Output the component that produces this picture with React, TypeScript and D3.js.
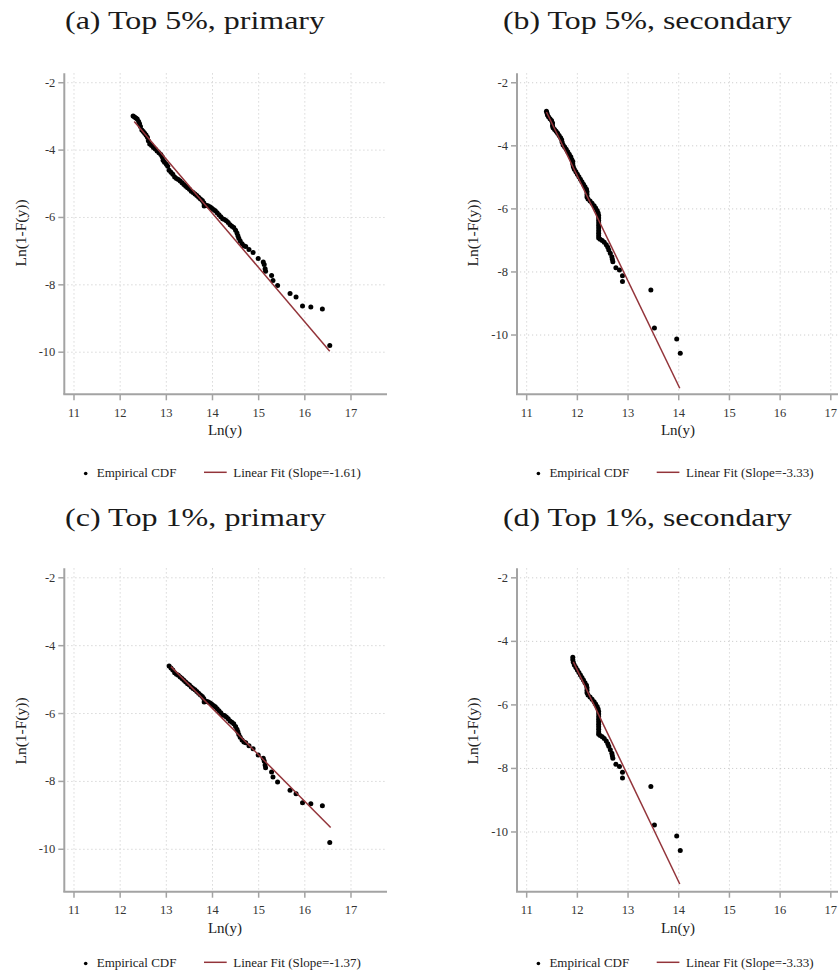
import React from 'react';
import * as d3 from 'd3';

// Empirical CDF points: [Ln(y), Ln(1-F(y))]
const primaryPoints: [number, number][] = [
  [12.28, -2.99], [12.31, -3.02], [12.34, -3.05], [12.37, -3.08], [12.40, -3.15],
  [12.42, -3.22], [12.44, -3.30], [12.47, -3.40], [12.50, -3.45], [12.53, -3.50],
  [12.56, -3.55], [12.59, -3.62], [12.61, -3.72], [12.64, -3.82], [12.68, -3.86],
  [12.72, -3.92], [12.76, -3.97], [12.80, -4.03], [12.84, -4.08], [12.88, -4.13],
  [12.91, -4.20], [12.93, -4.30], [12.96, -4.36], [13.00, -4.42], [13.03, -4.48],
  [13.06, -4.60], [13.10, -4.66], [13.14, -4.72], [13.18, -4.80], [13.22, -4.84],
  [13.26, -4.87], [13.30, -4.92], [13.34, -4.97], [13.38, -5.02], [13.42, -5.07],
  [13.46, -5.12], [13.50, -5.16], [13.54, -5.22], [13.58, -5.26], [13.62, -5.30],
  [13.66, -5.35], [13.70, -5.40], [13.74, -5.45], [13.78, -5.50], [13.81, -5.56],
  [13.82, -5.66], [13.86, -5.64], [13.90, -5.65], [13.94, -5.68], [13.98, -5.72],
  [14.02, -5.76], [14.06, -5.80], [14.10, -5.86], [14.14, -5.92], [14.18, -5.98],
  [14.22, -6.04], [14.26, -6.06], [14.30, -6.10], [14.34, -6.15], [14.38, -6.22],
  [14.42, -6.26], [14.46, -6.30], [14.50, -6.38], [14.53, -6.46], [14.55, -6.54],
  [14.57, -6.62], [14.60, -6.70], [14.64, -6.78], [14.68, -6.84], [14.72, -6.86],
  [14.79, -6.95], [14.88, -7.04], [14.99, -7.22], [15.10, -7.32], [15.12, -7.40],
  [15.14, -7.52], [15.15, -7.60], [15.28, -7.72], [15.31, -7.87], [15.41, -8.02],
  [15.68, -8.26], [15.81, -8.36], [15.95, -8.63], [16.13, -8.66], [16.38, -8.72],
  [16.54, -9.80],
];

const secondaryPoints: [number, number][] = [
  [11.39, -2.90], [11.40, -2.96], [11.41, -3.02], [11.43, -3.08], [11.46, -3.14],
  [11.49, -3.20], [11.51, -3.28], [11.51, -3.36], [11.52, -3.43], [11.55, -3.48],
  [11.58, -3.54], [11.61, -3.60], [11.64, -3.67], [11.67, -3.74], [11.69, -3.81],
  [11.70, -3.89], [11.72, -3.97], [11.75, -4.04], [11.78, -4.11], [11.81, -4.19],
  [11.84, -4.27], [11.87, -4.35], [11.89, -4.43], [11.91, -4.50], [11.91, -4.58],
  [11.92, -4.66], [11.94, -4.74], [11.97, -4.82], [12.00, -4.90], [12.03, -4.98],
  [12.06, -5.06], [12.09, -5.14], [12.12, -5.22], [12.15, -5.30], [12.18, -5.38],
  [12.19, -5.46], [12.19, -5.54], [12.19, -5.62], [12.21, -5.69], [12.25, -5.75],
  [12.29, -5.82], [12.33, -5.90], [12.36, -5.97], [12.39, -6.05], [12.41, -6.13],
  [12.42, -6.21], [12.42, -6.29], [12.42, -6.37], [12.42, -6.45], [12.42, -6.53],
  [12.42, -6.61], [12.42, -6.69], [12.42, -6.77], [12.42, -6.85], [12.42, -6.92],
  [12.45, -6.96], [12.49, -7.00], [12.53, -7.06], [12.57, -7.14], [12.60, -7.22],
  [12.62, -7.30], [12.65, -7.41], [12.68, -7.52], [12.69, -7.60], [12.70, -7.68],
  [12.76, -7.87], [12.83, -7.94], [12.89, -8.12], [12.89, -8.30], [13.45, -8.57],
  [13.52, -9.78], [13.96, -10.13], [14.03, -10.58],
];

const panelTitles = [
  '(a) Top 5%, primary',
  '(b) Top 5%, secondary',
  '(c) Top 1%, primary',
  '(d) Top 1%, secondary',
];
const fitSlopes = [-1.61, -3.33, -1.37, -3.33];
const fitIntercepts = [16.66, 35.0, 13.33, 35.05];
const fitStart = [12.305, 11.39, 13.1, 11.92];
const fitEnd = [16.54, 14.02, 16.56, 14.02];
const xTicks = [11, 12, 13, 14, 15, 16, 17];
const yTicks = [-2, -4, -6, -8, -10];
const top1Cutoff = -4.5;
const xTitle = 'Ln(y)';
const yTitle = 'Ln(1-F(y))';
const legendPoints = 'Empirical CDF';

// layout (pixels) for each panel
const layouts = [
  { xRange: [64.3, 387], yRange: [73.3, 394.3], xDomain: [10.79, 17.78], yDomain: [-1.72, -11.25],
    titleX: 65, titleY: 29, titleW: 260, yLabX: 20, yLabY: 233, xLabX: 225, xLabY: 435, tickY: 416.5, legX: 85.7, legY: 477 },
  { xRange: [517, 845], yRange: [73.3, 394.3], xDomain: [10.809, 17.28], yDomain: [-1.70, -11.88],
    titleX: 503, titleY: 29, titleW: 289, yLabX: 472.7, yLabY: 233, xLabX: 678, xLabY: 435, tickY: 416.5, legX: 538.4, legY: 477 },
  { xRange: [64.3, 387], yRange: [568.3, 891.7], xDomain: [10.79, 17.78], yDomain: [-1.72, -11.25],
    titleX: 65, titleY: 526, titleW: 261, yLabX: 20, yLabY: 731, xLabX: 225, xLabY: 933, tickY: 913.5, legX: 85.7, legY: 967 },
  { xRange: [517, 845], yRange: [568.3, 891.7], xDomain: [10.809, 17.28], yDomain: [-1.70, -11.88],
    titleX: 503, titleY: 526, titleW: 289, yLabX: 472.7, yLabY: 731, xLabX: 678, xLabY: 933, tickY: 913.5, legX: 538.4, legY: 967 },
];

const FIT_COLOR = '#93343a';
const AXIS_COLOR = '#a3a3a3';
const GRID_COLOR = '#cfcfcf';
const SERIF = "'Liberation Serif', 'Times New Roman', serif";

function Panel({ i }: { i: number }) {
  const L = layouts[i];
  const x = d3.scaleLinear().domain(L.xDomain).range(L.xRange);
  const y = d3.scaleLinear().domain(L.yDomain).range(L.yRange);
  const base = i % 2 === 0 ? primaryPoints : secondaryPoints;
  const data = i < 2 ? base : base.filter((p) => p[1] <= top1Cutoff);
  const fitXs = [fitStart[i], fitEnd[i]];
  const line = d3
    .line<number>()
    .x((v) => x(v))
    .y((v) => y(fitIntercepts[i] + fitSlopes[i] * v));
  const [x0, x1] = L.xRange;
  const [y0, y1] = L.yRange;
  const legendFit = `Linear Fit (Slope=${fitSlopes[i].toFixed(2)})`;
  return (
    <g>
      <text x={L.titleX} y={L.titleY} fontFamily={SERIF} fontSize={25} fill="#1a1a1a"
        textLength={L.titleW} lengthAdjust="spacingAndGlyphs">{panelTitles[i]}</text>
      {/* grid */}
      {xTicks.map((t) => (
        <line key={'gx' + t} x1={x(t)} x2={x(t)} y1={y0} y2={y1 - 2} stroke={GRID_COLOR}
          strokeWidth={1} strokeDasharray="1.2 2.8" />
      ))}
      {yTicks.map((t) => (
        <line key={'gy' + t} x1={x0 + 3} x2={x1} y1={y(t)} y2={y(t)} stroke={GRID_COLOR}
          strokeWidth={1} strokeDasharray="1.2 2.8" />
      ))}
      {/* axes */}
      <line x1={x0} x2={x0} y1={y0} y2={y1} stroke={AXIS_COLOR} strokeWidth={2} />
      <line x1={x0 - 1} x2={x1} y1={y1} y2={y1} stroke={AXIS_COLOR} strokeWidth={2} />
      {yTicks.map((t) => (
        <g key={'ty' + t}>
          <line x1={x0 - 6} x2={x0} y1={y(t)} y2={y(t)} stroke={AXIS_COLOR} strokeWidth={1.5} />
          <text x={x0 - 9} y={y(t) + 4} textAnchor="end" fontFamily={SERIF} fontSize={12.5} fill="#333">
            {t}
          </text>
        </g>
      ))}
      {xTicks.map((t) => (
        <g key={'tx' + t}>
          <line x1={x(t)} x2={x(t)} y1={y1} y2={y1 + 6} stroke={AXIS_COLOR} strokeWidth={1.5} />
          <text x={x(t)} y={L.tickY} textAnchor="middle" fontFamily={SERIF} fontSize={12.5} fill="#333">
            {t}
          </text>
        </g>
      ))}
      <text x={L.xLabX} y={L.xLabY} textAnchor="middle" fontFamily={SERIF} fontSize={15} fill="#222">
        {xTitle}
      </text>
      <text transform={`translate(${L.yLabX},${L.yLabY}) rotate(-90)`} textAnchor="middle"
        dominantBaseline="central" fontFamily={SERIF} fontSize={15.5} fill="#222">
        {yTitle}
      </text>
      {/* data */}
      {data.map((p, k) => (
        <circle key={k} cx={x(p[0])} cy={y(p[1])} r={2.5} fill="#000" />
      ))}
      <path d={line(fitXs) || ''} fill="none" stroke={FIT_COLOR} strokeWidth={1.5} />
      {/* legend */}
      <circle cx={L.legX} cy={L.legY - 3.5} r={1.8} fill="#000" />
      <text x={L.legX + 11} y={L.legY} fontFamily={SERIF} fontSize={13} fill="#222">
        {legendPoints}
      </text>
      <line x1={L.legX + 118.3} x2={L.legX + 141} y1={L.legY - 4.7} y2={L.legY - 4.7}
        stroke={FIT_COLOR} strokeWidth={1.5} />
      <text x={L.legX + 147.6} y={L.legY} fontFamily={SERIF} fontSize={13} fill="#222">
        {legendFit}
      </text>
    </g>
  );
}

export default function App() {
  return (
    <svg width={838} height={973} viewBox="0 0 838 973"
      style={{ position: 'absolute', left: 0, top: 0, background: '#fff' }}>
      <rect x={0} y={0} width={838} height={973} fill="#fff" />
      {[0, 1, 2, 3].map((i) => (
        <Panel key={i} i={i} />
      ))}
    </svg>
  );
}
